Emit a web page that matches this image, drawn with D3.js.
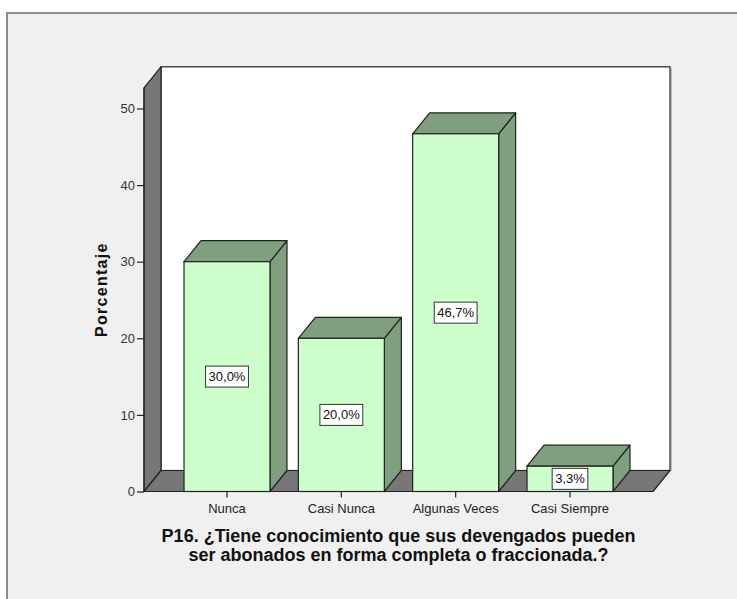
<!DOCTYPE html>
<html><head><meta charset="utf-8">
<script src="https://cdn.jsdelivr.net/npm/d3@7"></script>
<style>
html,body{margin:0;padding:0;background:#fff;}
svg{display:block;font-family:"Liberation Sans",Arial,sans-serif;}
</style></head>
<body>
<script>
const categories = ["Nunca", "Casi Nunca", "Algunas Veces", "Casi Siempre"];
const values = [30.0, 20.0, 46.7, 3.3];
const valueLabels = ["30,0%", "20,0%", "46,7%", "3,3%"];
const yTicks = [0, 10, 20, 30, 40, 50];
const yTitle = "Porcentaje";
const titleLines = ["P16. ¿Tiene conocimiento que sus devengados pueden", "ser abonados en forma completa o fraccionada.?"];

const W = 737, H = 599;
const svg = d3.select("body").append("svg").attr("width", W).attr("height", H);

// outer frame
svg.append("rect").attr("x", 0).attr("y", 0).attr("width", W).attr("height", H).attr("fill", "#fff");
svg.append("rect").attr("x", 7).attr("y", 13).attr("width", W + 20).attr("height", H + 20)
  .attr("fill", "#f0f0f0").attr("stroke", "#8a8a8a").attr("stroke-width", 2);

const x0 = 144, x1 = 653, dx = 17, dy = -21;
const y = d3.scaleLinear().domain([0, 50]).range([491.5, 108.5]);
const yMaxVal = 52.7;
const x = d3.scaleBand().domain(categories).range([x0, x1]).paddingInner(0.248).paddingOuter(0.35);

const wallGray = "#777777", line = "#222";
const yTop = y(yMaxVal), yBase = y(0);

// back wall
svg.append("rect").attr("x", x0 + dx).attr("y", yTop + dy).attr("width", x1 - x0).attr("height", yBase - yTop)
  .attr("fill", "#fff").attr("stroke", line).attr("stroke-width", 1.2);
svg.append("line").attr("x1", x1 + dx + 1.5).attr("x2", x1 + dx + 1.5).attr("y1", yTop + dy + 1).attr("y2", yBase + dy)
  .attr("stroke", "#bbb").attr("stroke-width", 1);
// left side wall
svg.append("path").attr("d", d3.line()([[x0, yBase], [x0, yTop], [x0 + dx, yTop + dy], [x0 + dx, yBase + dy]]) + "Z")
  .attr("fill", wallGray).attr("stroke", line).attr("stroke-width", 1.2).attr("stroke-linejoin", "round");
// floor
svg.append("path").attr("d", d3.line()([[x0, yBase], [x1, yBase], [x1 + dx, yBase + dy], [x0 + dx, yBase + dy]]) + "Z")
  .attr("fill", wallGray).attr("stroke", line).attr("stroke-width", 1.2).attr("stroke-linejoin", "round");

// y axis
const yAxis = svg.append("g").attr("transform", `translate(${x0},0)`)
  .call(d3.axisLeft(y).tickValues(yTicks).tickSize(7).tickPadding(2).tickFormat(d3.format("d")));
yAxis.attr("font-size", null).attr("font-family", null);
yAxis.select(".domain").remove();
yAxis.selectAll("line").attr("stroke", line).attr("stroke-width", 1.2);
yAxis.selectAll("text").attr("fill", "#333").style("font-size", "13px");
svg.append("line").attr("x1", x0).attr("x2", x0).attr("y1", yTop).attr("y2", yBase).attr("stroke", line).attr("stroke-width", 1.2);

// x axis
const xAxis = svg.append("g").attr("transform", `translate(0,${yBase})`)
  .call(d3.axisBottom(x).tickSize(6).tickPadding(6));
xAxis.attr("font-size", null).attr("font-family", null);
xAxis.select(".domain").remove();
xAxis.selectAll("line").attr("stroke", line).attr("stroke-width", 1.2);
xAxis.selectAll("text").attr("fill", "#222").style("font-size", "13px");

// bars
const front = "#ccffcc", shade = "#7f9f7f";
const bars = svg.append("g").selectAll("g").data(categories).join("g");
bars.each(function (c, i) {
  const g = d3.select(this);
  const bx0 = x(c), bx1 = x(c) + x.bandwidth(), by = y(values[i]);
  g.append("path").attr("d", d3.line()([[bx1, yBase], [bx1, by], [bx1 + dx, by + dy], [bx1 + dx, yBase + dy]]) + "Z")
    .attr("fill", shade).attr("stroke", line).attr("stroke-width", 1.2).attr("stroke-linejoin", "round");
  g.append("path").attr("d", d3.line()([[bx0, by], [bx0 + dx, by + dy], [bx1 + dx, by + dy], [bx1, by]]) + "Z")
    .attr("fill", shade).attr("stroke", line).attr("stroke-width", 1.2).attr("stroke-linejoin", "round");
  g.append("rect").attr("x", bx0).attr("y", by).attr("width", bx1 - bx0).attr("height", yBase - by)
    .attr("fill", front).attr("stroke", line).attr("stroke-width", 1.2);
  // value label
  const cx = (bx0 + bx1) / 2, cy = (by + yBase) / 2;
  const t = g.append("text").attr("x", cx).attr("y", cy).attr("text-anchor", "middle").attr("dominant-baseline", "central")
    .style("font-size", "13px").attr("fill", "#111").text(valueLabels[i]);
  const w = t.node().getComputedTextLength();
  g.insert("rect", "text").attr("x", cx - w / 2 - 3).attr("y", cy - 10.5).attr("width", w + 6).attr("height", 21)
    .attr("fill", "#fff").attr("stroke", "#333").attr("stroke-width", 1);
});

// y title
svg.append("text").attr("transform", `translate(107,${(yTop + yBase) / 2}) rotate(-90)`)
  .attr("text-anchor", "middle").style("font-size", "16px").style("letter-spacing", "1.3px")
  .style("font-weight", "bold").attr("fill", "#111").text(yTitle);

// title
const tcx = (x0 + x1) / 2;
const tl = svg.append("text").attr("text-anchor", "middle").style("font-weight", "bold").attr("fill", "#111").style("font-size", "16px");
titleLines.forEach((s, i) => {
  tl.append("tspan").attr("x", tcx).attr("y", 542 + i * 18.5).text(s);
});
const tw = tl.select("tspan").node().getComputedTextLength();
tl.style("font-size", (16 * 474 / tw).toFixed(2) + "px");
</script>
</body></html>
